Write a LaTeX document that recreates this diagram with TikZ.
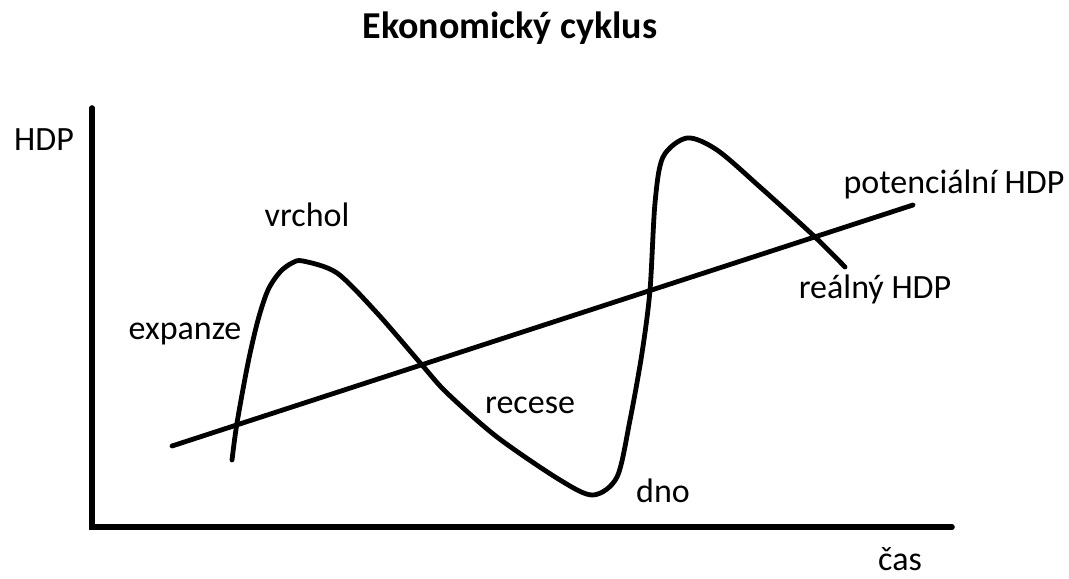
\documentclass[tikz,border=0pt]{standalone}
\usepackage{fontspec}
\setmainfont{Carlito}
\usetikzlibrary{positioning, calc}
\tikzset{
  axis/.style={line width=2.8pt, line cap=round},
  trend/.style={line width=2.4pt, line cap=round},
  cycle/.style={line width=2.4pt, line cap=round, line join=round},
  lbl/.style={anchor=base, inner sep=0pt, font=\fontsize{17}{20}\selectfont},
  ttl/.style={anchor=base, inner sep=0pt, font=\fontsize{19}{22}\selectfont\bfseries},
}
\begin{document}
\begin{tikzpicture}[x=0.5pt, y=-0.5pt]
  \useasboundingbox (0,0) rectangle (1069,578);

  % ----- title ----------------------------------------------------------------
  \node[ttl] (title) at (510,39) {Ekonomický cyklus};

  % ----- axes -----------------------------------------------------------------
  \coordinate (top)    at (92,108);
  \coordinate (origin) at (92,527);
  \coordinate (right)  at (952,527);
  \draw[axis] (top) -- (origin) -- (right);
  \node[lbl] (ylab) at (44,150)  {HDP};
  \node[lbl] (xlab) at (900,570) {čas};

  % ----- potential output (trend line) ----------------------------------------
  \coordinate (p0) at (172,446);
  \coordinate (p1) at (913,205);
  \draw[trend] (p0) -- (p1);
  \node[lbl] (pot) at (954,193) {potenciální HDP};

  % ----- real output (cycle) --------------------------------------------------
  \draw[cycle] plot[smooth, tension=0.5] coordinates {
    (232,460) (237,423) (248,363) (258,320) (268,290) (280,272)
    (292,263) (303,261) (337,273) (377,313) (422,365) (447,393)
    (497,437) (560,480) (593,495) (617,477) (630,420) (642,353)
    (650,290) (655,203) (663,157) (687,138) (717,150) (760,187)
    (815,237) (845,267)};
  \node[lbl] (real) at (875,298) {reálný HDP};

  % ----- phases ---------------------------------------------------------------
  \node[lbl] (peak)   at (307,226) {vrchol};
  \node[lbl] (expand) at (185,339) {expanze};
  \node[lbl] (recess) at (530,413) {recese};
  \node[lbl] (trough) at (663,502) {dno};

\end{tikzpicture}
\end{document}
